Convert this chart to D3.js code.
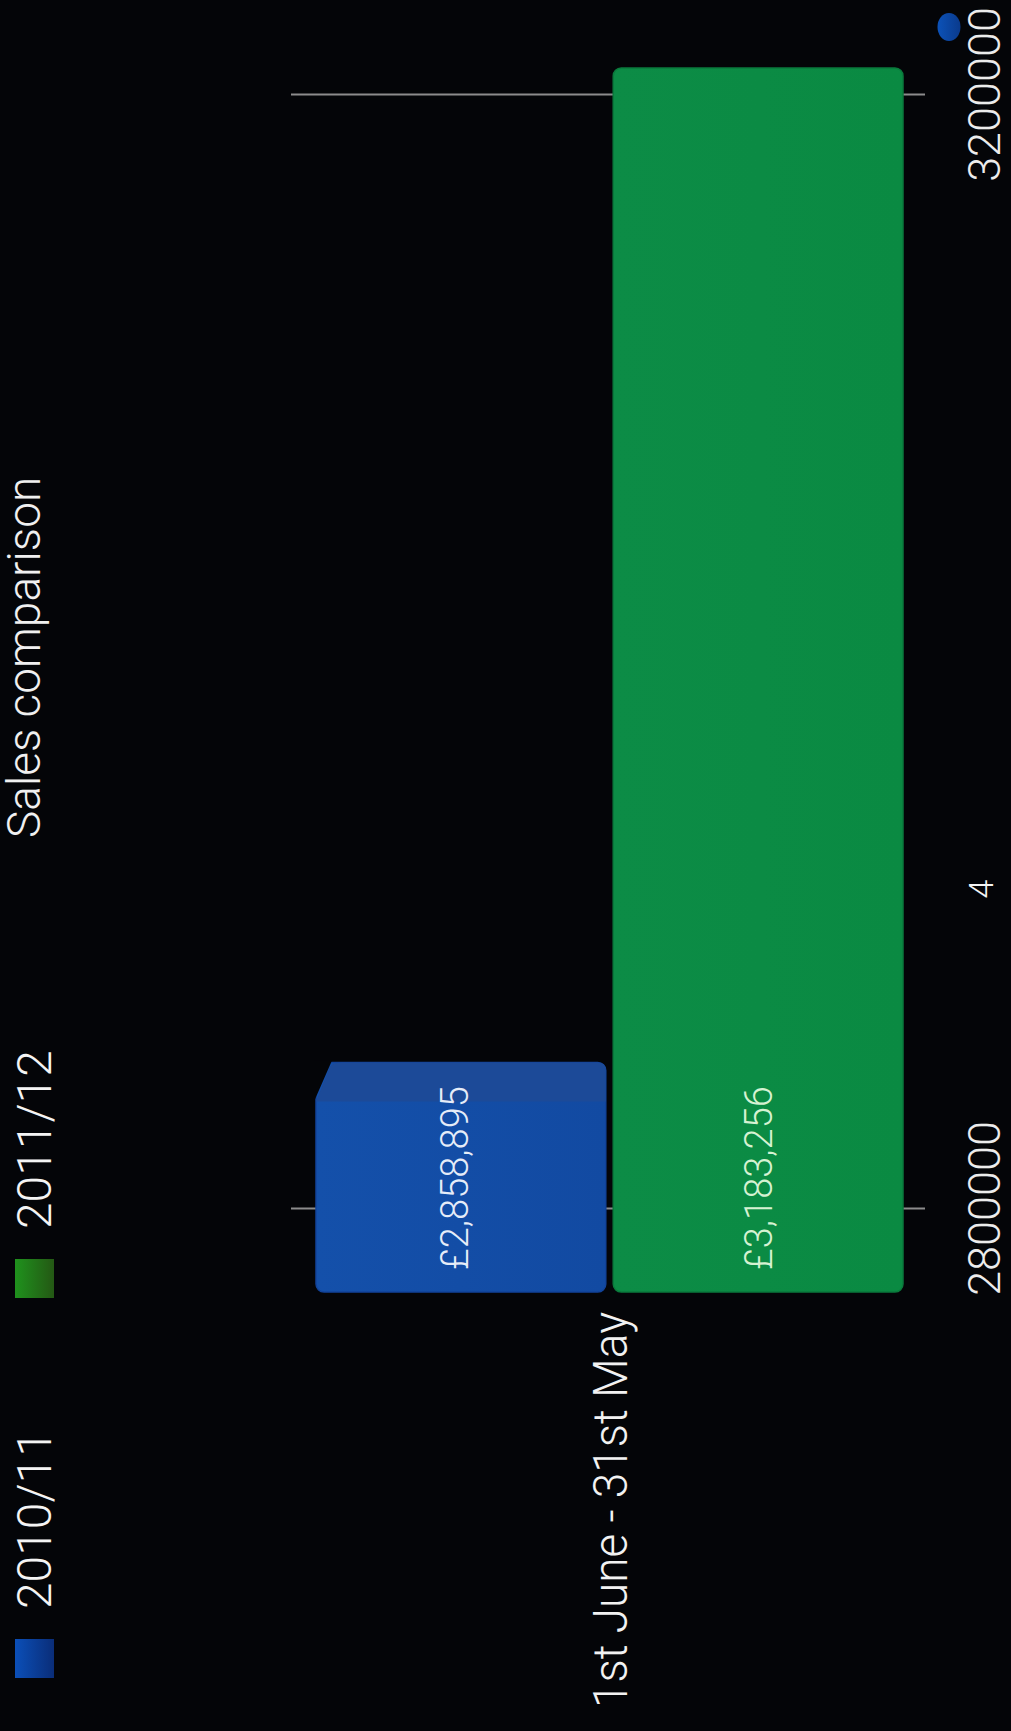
<!DOCTYPE html>
<html>
<head>
<meta charset="utf-8">
<script src="https://cdn.jsdelivr.net/npm/d3@7"></script>
<style>
  body { margin: 0; background: #040508; }
  svg { display: block; }
  text { font-family: Roboto, "Liberation Sans", sans-serif; font-weight: 300; }
</style>
</head>
<body>
<script>
// data
var categories = ['1st June - 31st May'];
var seriesNames = ['2010/11', '2011/12'];
var seriesValues = [2858895, 3183256];
var valueLabels = ['£2,858,895', '£3,183,256'];
var tickValues = [2800000, 3200000];
var tickLabels = ['2800000', '3200000'];
var sideLabel = '4';

var W = 1731, H = 1011;

var svg = d3.select('body').append('svg')
	.attr('width', H)
	.attr('height', W);

var defs = svg.append('defs');

function grad(id, c1, c2) {
	var g = defs.append('linearGradient').attr('id', id)
		.attr('x1', 0).attr('y1', 0).attr('x2', 0).attr('y2', 1);
	g.append('stop').attr('offset', '0%').attr('stop-color', c1);
	g.append('stop').attr('offset', '100%').attr('stop-color', c2);
}
grad('legend0', '#0b4fb8', '#0a2d78');
grad('legend1', '#1f921d', '#245814');
grad('bar0', '#1450aa', '#124aa2');
grad('bar1', '#0c8c46', '#0a8a42');
grad('dot', '#0c52b8', '#0a3a8c');

// the whole chart is drawn as a horizontal bar chart, then turned a quarter left
var chart = svg.append('g')
	.attr('transform', 'translate(0,' + W + ') rotate(-90)');

// back wall axis
var x = d3.scaleLinear()
	.domain([2800000, 3200000])
	.range([522, 1636]);

// bars sit on the front plane of the 3D scene, so they stretch more than the axis
var xFront = d3.scaleLinear()
	.domain([2784000, 3183256])
	.range([439, 1663]);

var y0 = d3.scaleBand()
	.domain(categories)
	.range([316, 903]);

var y1 = d3.scaleBand()
	.domain(seriesNames)
	.range([0, y0.bandwidth()])
	.paddingInner(0.025);

var faceDepth = [39, 0];
var faceColor = ['#1c4a98', 'none'];
var edgeColor = ['#12439a', '#0a7a3c'];
var labelColor = ['#e6ecf8', '#d6f2d2'];
var labelShift = [-7, 0];

// gridlines + tick labels
var axis = d3.axisBottom(x)
	.tickValues(tickValues)
	.tickFormat(function(d, i) { return tickLabels[i]; })
	.tickSize(-(925 - 291));

var axisG = chart.append('g')
	.attr('transform', 'translate(0,925)')
	.call(axis);
axisG.select('.domain').remove();
axisG.selectAll('.tick line')
	.attr('stroke', '#8c8c8c')
	.attr('stroke-width', 2);
axisG.selectAll('.tick text')
	.attr('y', 75)
	.attr('dy', 0)
	.attr('fill', '#ececec')
	.style('font-size', '45px');

chart.append('text')
	.attr('x', 842)
	.attr('y', 993)
	.attr('text-anchor', 'middle')
	.attr('fill', '#f4f4f4')
	.style('font-size', '34px')
	.text(sideLabel);

// bars
var group = chart.selectAll('.cat')
	.data(categories)
	.enter().append('g')
	.attr('class', 'cat')
	.attr('transform', function(d) { return 'translate(0,' + y0(d) + ')'; });

seriesNames.forEach(function(name, i) {
	var v = seriesValues[i];
	var base = xFront.range()[0];
	var top = xFront(v);
	var by = y1(name);
	var bw = y1.bandwidth();

	group.append('rect')
		.attr('x', base)
		.attr('y', by)
		.attr('width', top - base)
		.attr('height', bw)
		.attr('rx', 8)
		.attr('fill', 'url(#bar' + i + ')')
		.attr('stroke', edgeColor[i])
		.attr('stroke-width', 1.5);

	if (faceDepth[i] > 0) {
		var fd = faceDepth[i];
		var p = d3.path();
		p.moveTo(top - fd, by);
		p.lineTo(top - 4, by + 14);
		p.quadraticCurveTo(top, by + 17, top, by + 26);
		p.lineTo(top, by + bw - 8);
		p.quadraticCurveTo(top, by + bw, top - 8, by + bw);
		p.lineTo(top - fd, by + bw);
		p.closePath();
		group.append('path')
			.attr('d', p.toString())
			.attr('fill', faceColor[i]);
		// cut the front corner where the top face slants away
		group.append('path')
			.attr('d', 'M' + (top - fd) + ',' + (by - 2) + 'L' + (top + 2) + ',' + (by - 2) + 'L' + (top + 2) + ',' + (by + 16) + 'Z')
			.attr('fill', '#040508');
	}

	group.append('text')
		.attr('x', base + 22)
		.attr('y', by + bw / 2 + 14 + labelShift[i])
		.attr('fill', labelColor[i])
		.style('font-size', '38px')
		.text(valueLabels[i]);
});

// category label
group.append('text')
	.attr('x', 419)
	.attr('y', y0.bandwidth() / 2 + 17)
	.attr('text-anchor', 'end')
	.attr('textLength', 396)
	.attr('lengthAdjust', 'spacingAndGlyphs')
	.attr('fill', '#f2f2f2')
	.style('font-size', '49px')
	.text(function(d) { return d; });

// title
chart.append('text')
	.attr('x', 893)
	.attr('y', 40)
	.attr('fill', '#f0f0f0')
	.style('font-size', '46px')
	.text('Sales comparison');

// legend
var legendX = [53, 433];
seriesNames.forEach(function(name, i) {
	chart.append('rect')
		.attr('x', legendX[i])
		.attr('y', 15)
		.attr('width', 39)
		.attr('height', 39)
		.attr('fill', 'url(#legend' + i + ')');
	chart.append('text')
		.attr('x', legendX[i] + 69)
		.attr('y', 51)
		.attr('fill', '#f4f4f4')
		.style('font-size', '48px')
		.text(name);
});

// little blue marker in the corner
chart.append('ellipse')
	.attr('cx', 1704)
	.attr('cy', 949)
	.attr('rx', 14)
	.attr('ry', 11.5)
	.attr('fill', 'url(#dot)');
</script>
</body>
</html>
